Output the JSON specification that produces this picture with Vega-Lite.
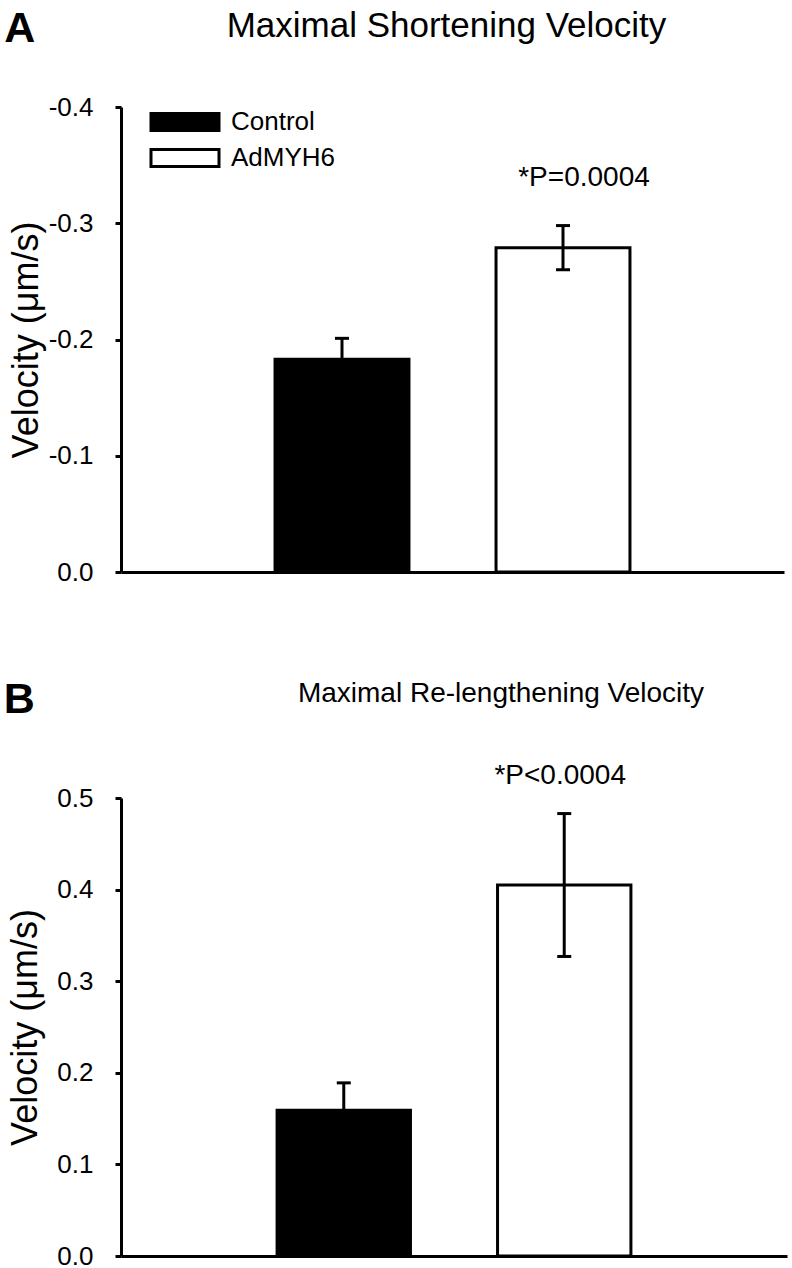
{
  "$schema": "https://vega.github.io/schema/vega-lite/v6.json",
  "background": "white",
  "padding": {"left": 3, "top": 8, "right": 2, "bottom": 2},
  "config": {
    "font": "Liberation Sans",
    "view": {"stroke": null},
    "axis": {"domainColor": "black", "domainWidth": 3, "tickColor": "black", "tickWidth": 3, "labelColor": "black", "titleColor": "black", "grid": false},
    "title": {"color": "black"}
  },
  "datasets": {
    "shortening": [
      {"group": "Control", "v": -0.183, "lo": -0.165, "hi": -0.201, "note": ""},
      {"group": "AdMYH6", "v": -0.279, "lo": -0.260, "hi": -0.298, "note": "*P=0.0004"}
    ],
    "relengthening": [
      {"group": "Control", "v": 0.159, "lo": 0.129, "hi": 0.189, "note": ""},
      {"group": "AdMYH6", "v": 0.405, "lo": 0.327, "hi": 0.483, "note": "*P<0.0004"}
    ]
  },
  "spacing": 93,
  "resolve": {"scale": {"y": "independent", "fill": "independent", "x": "independent"}, "legend": {"fill": "independent"}},
  "vconcat": [
    {
      "title": {"text": "A", "anchor": "start", "frame": "bounds", "fontSize": 43, "fontWeight": "bold", "offset": -42, "dx": -4},
      "vconcat": [
        {
          "width": 663,
          "height": 465,
          "data": {"name": "shortening"},
          "title": {"text": "Maximal Shortening Velocity", "fontSize": 35, "fontWeight": "normal", "anchor": "middle", "offset": 50, "dx": -6},
          "encoding": {
            "x": {"field": "group", "type": "nominal", "sort": ["Control", "AdMYH6"], "scale": {"paddingInner": 0.394, "paddingOuter": 0.697}, "axis": {"labels": false, "ticks": false, "title": null}}
          },
          "layer": [
            {
              "mark": {"type": "bar", "stroke": "black", "strokeWidth": 3},
              "encoding": {
                "y": {"field": "v", "type": "quantitative", "scale": {"domain": [-0.4, 0], "reverse": true},
                  "axis": {"values": [-0.4, -0.3, -0.2, -0.1, 0], "labelExpr": "replace(format(datum.value, '.1f'), '\u2212', '-')", "tickSize": 6, "labelPadding": 22, "labelFontSize": 26, "title": "Velocity (\u03bcm/s)", "titleFontSize": 36, "titleFontWeight": "normal", "titlePadding": 3}},
                "fill": {"field": "group", "type": "nominal", "scale": {"domain": ["Control", "AdMYH6"], "range": ["black", "white"]},
                  "legend": {"orient": "none", "legendX": 51, "legendY": 2, "title": null, "symbolType": "M-4,-1H4V1H-4Z", "symbolSize": 289, "symbolStrokeColor": "black", "symbolStrokeWidth": 3, "labelFontSize": 26, "labelOffset": 33, "rowPadding": 6, "labelColor": "black"}}
              }
            },
            {
              "mark": {"type": "rule", "strokeWidth": 3, "color": "black"},
              "encoding": {"y": {"field": "lo", "type": "quantitative"}, "y2": {"field": "hi"}}
            },
            {
              "mark": {"type": "tick", "thickness": 3, "size": 14, "color": "black", "opacity": 1},
              "encoding": {"y": {"field": "hi", "type": "quantitative"}}
            },
            {
              "mark": {"type": "tick", "thickness": 3, "size": 14, "color": "black", "opacity": 1},
              "encoding": {"y": {"field": "lo", "type": "quantitative"}}
            },
            {
              "transform": [{"filter": "datum.note != ''"}],
              "mark": {"type": "text", "fontSize": 28, "dx": 21, "dy": -40, "baseline": "alphabetic", "color": "black"},
              "encoding": {"y": {"field": "hi", "type": "quantitative"}, "text": {"field": "note"}}
            }
          ]
        }
      ]
    },
    {
      "title": {"text": "B", "anchor": "start", "frame": "bounds", "fontSize": 43, "fontWeight": "bold", "offset": -42, "dx": -4},
      "vconcat": [
        {
          "width": 666,
          "height": 458,
          "data": {"name": "relengthening"},
          "title": {"text": "Maximal Re-lengthening Velocity", "fontSize": 28, "fontWeight": "normal", "anchor": "middle", "offset": 54, "dx": 47},
          "encoding": {
            "x": {"field": "group", "type": "nominal", "sort": ["Control", "AdMYH6"], "scale": {"paddingInner": 0.395, "paddingOuter": 0.708}, "axis": {"labels": false, "ticks": false, "title": null}}
          },
          "layer": [
            {
              "mark": {"type": "bar", "stroke": "black", "strokeWidth": 3},
              "encoding": {
                "y": {"field": "v", "type": "quantitative", "scale": {"domain": [0, 0.5]},
                  "axis": {"values": [0, 0.1, 0.2, 0.3, 0.4, 0.5], "format": ".1f", "tickSize": 6, "labelPadding": 22, "labelFontSize": 26, "title": "Velocity (\u03bcm/s)", "titleFontSize": 36, "titleFontWeight": "normal", "titlePadding": 12}},
                "fill": {"field": "group", "type": "nominal", "scale": {"domain": ["Control", "AdMYH6"], "range": ["black", "white"]}, "legend": null}
              }
            },
            {
              "mark": {"type": "rule", "strokeWidth": 3, "color": "black"},
              "encoding": {"y": {"field": "lo", "type": "quantitative"}, "y2": {"field": "hi"}}
            },
            {
              "mark": {"type": "tick", "thickness": 3, "size": 14, "color": "black", "opacity": 1},
              "encoding": {"y": {"field": "hi", "type": "quantitative"}}
            },
            {
              "mark": {"type": "tick", "thickness": 3, "size": 14, "color": "black", "opacity": 1},
              "encoding": {"y": {"field": "lo", "type": "quantitative"}}
            },
            {
              "transform": [{"filter": "datum.note != ''"}],
              "mark": {"type": "text", "fontSize": 28, "dx": -4, "dy": -30, "baseline": "alphabetic", "color": "black"},
              "encoding": {"y": {"field": "hi", "type": "quantitative"}, "text": {"field": "note"}}
            }
          ]
        }
      ]
    }
  ]
}
